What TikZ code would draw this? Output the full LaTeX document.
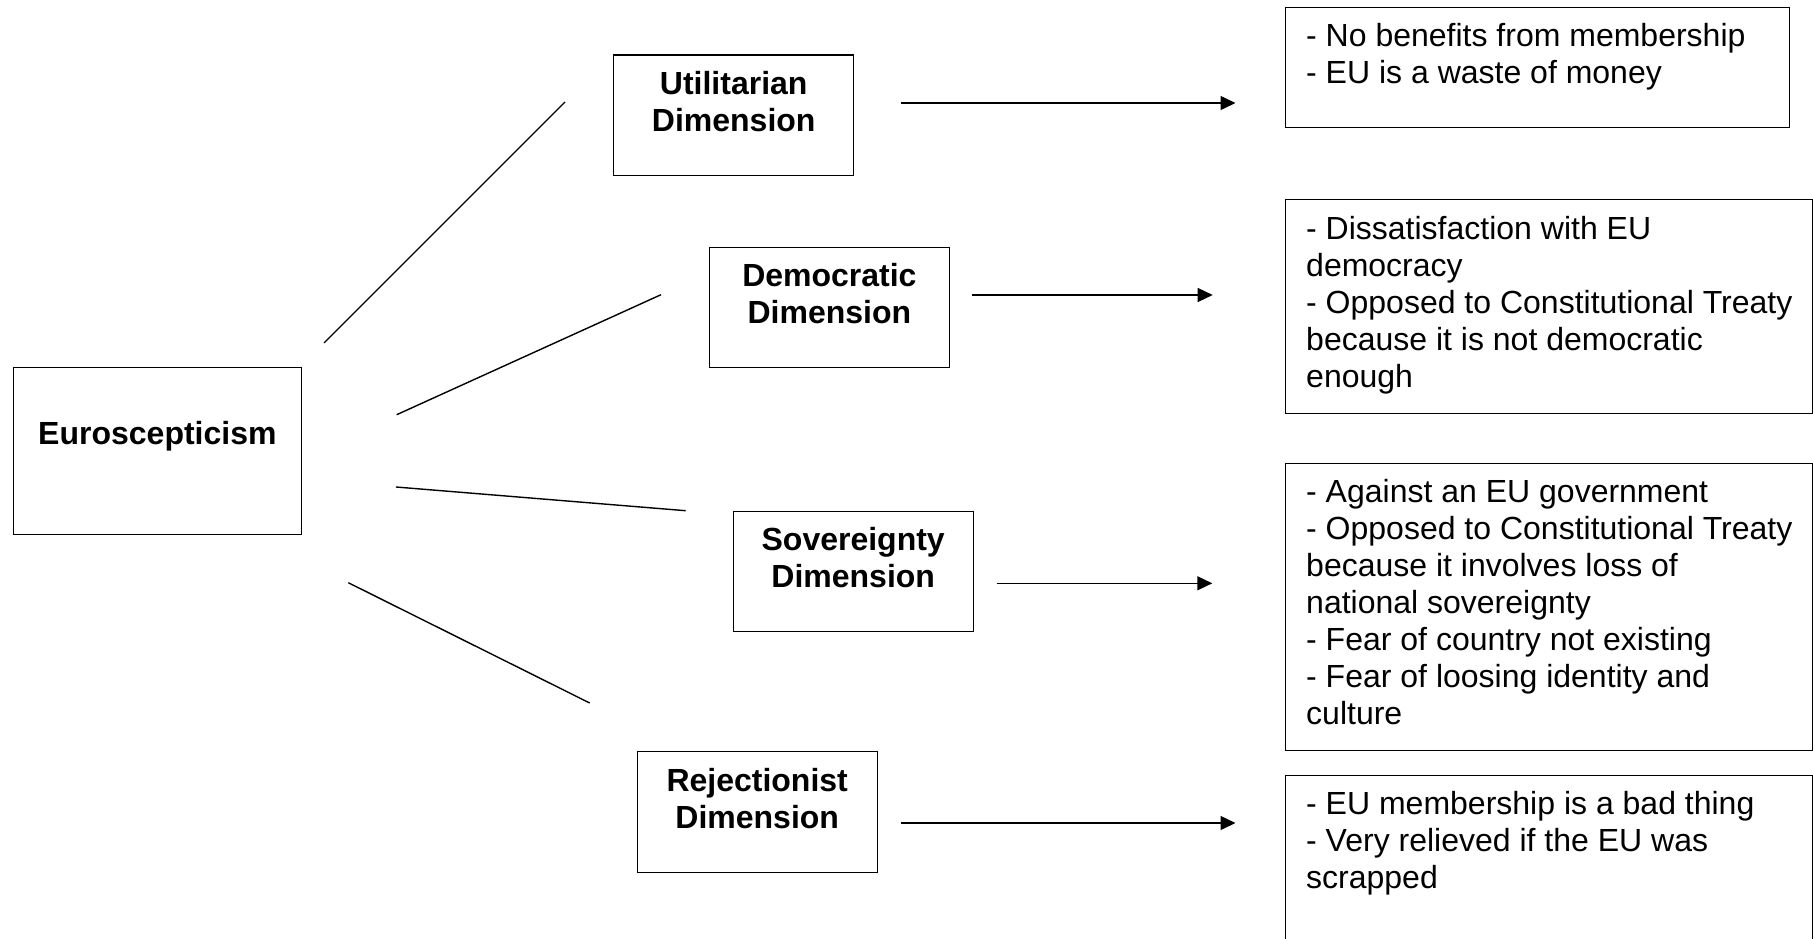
\documentclass[tikz,border=0pt]{standalone}
\usepackage{fontspec}
\setmainfont{Liberation Sans}
\usetikzlibrary{arrows.meta}
\newcommand\firstln{\rule{0pt}{29pt}}
\begin{document}
\begin{tikzpicture}[x=1pt,y=-1pt,
  frame/.style={draw, line width=1.4pt, rectangle, inner sep=0pt, anchor=north west},
  dimbox/.style={frame, minimum width=240pt, minimum height=120.5pt},
  rbox/.style={frame, minimum width=527pt},
  lab/.style={font=\fontsize{32}{37}\selectfont\bfseries, align=center, anchor=north, inner sep=0pt},
  txt/.style={font=\fontsize{32}{37}\selectfont, align=left, anchor=north west, inner sep=0pt},
  link/.style={line width=1.4pt},
  arr/.style={line width=1.4pt, -{Triangle[length=15pt,width=14pt]}}
]
\useasboundingbox (0,0) rectangle (1813,939);
% main box
\node[frame, minimum width=288pt, minimum height=167.5pt] (e) at (12.7,366.5) {};
\node[lab] (et) at ([yshift=-48.5pt]e.north) {\firstln Euroscepticism};
% dimension boxes
\node[dimbox] (u) at (613,54.5) {};
\node[lab] (ut) at ([yshift=-11pt]u.north) {\firstln Utilitarian\\Dimension};
\node[dimbox] (d) at (708.7,246.5) {};
\node[lab] (dt) at ([yshift=-11pt]d.north) {\firstln Democratic\\Dimension};
\node[dimbox] (s) at (732.5,510.5) {};
\node[lab] (st) at ([yshift=-11pt]s.north) {\firstln Sovereignty\\Dimension};
\node[dimbox] (r) at (636.5,751) {};
\node[lab] (rt) at ([yshift=-11pt]r.north) {\firstln Rejectionist\\Dimension};
% right boxes
\node[frame, minimum width=504pt, minimum height=120pt] (b1) at (1285,6.7) {};
\node[txt] (b1t) at ([xshift=21pt,yshift=-11pt]b1.north west) {\firstln - No benefits from membership\\- EU is a waste of money};
\node[rbox, minimum height=214pt] (b2) at (1285,199) {};
\node[txt] (b2t) at ([xshift=21pt,yshift=-11pt]b2.north west) {\firstln - Dissatisfaction with EU\\democracy\\- Opposed to Constitutional Treaty\\because it is not democratic\\enough};
\node[rbox, minimum height=287.5pt] (b3) at (1285,462.5) {};
\node[txt] (b3t) at ([xshift=21pt,yshift=-11pt]b3.north west) {\firstln - Against an EU government\\- Opposed to Constitutional Treaty\\because it involves loss of\\national sovereignty\\- Fear of country not existing\\- Fear of loosing identity and\\culture};
\node[rbox, minimum height=200pt] (b4) at (1285,774.6) {};
\node[txt] (b4t) at ([xshift=21pt,yshift=-11pt]b4.north west) {\firstln - EU membership is a bad thing\\- Very relieved if the EU was\\scrapped};
% free-standing lines
\coordinate (l1a) at (324,343);   \coordinate (l1b) at (565,102);
\coordinate (l2a) at (396.7,414.7); \coordinate (l2b) at (661,294.7);
\coordinate (l3a) at (396,487);   \coordinate (l3b) at (685.7,510.7);
\coordinate (l4a) at (348.3,582.7); \coordinate (l4b) at (589.7,703);
\draw[link] (l1a) -- (l1b);
\draw[link] (l2a) -- (l2b);
\draw[link] (l3a) -- (l3b);
\draw[link] (l4a) -- (l4b);
% arrows
\coordinate (a1a) at (900.5,103);  \coordinate (a1b) at (1235.5,103);
\coordinate (a2a) at (972.3,295);  \coordinate (a2b) at (1212.7,295);
\coordinate (a3a) at (996.7,583.3); \coordinate (a3b) at (1212.3,583.3);
\coordinate (a4a) at (900.5,823);  \coordinate (a4b) at (1235.5,823);
\draw[arr] (a1a) -- (a1b);
\draw[arr] (a2a) -- (a2b);
\draw[arr] (a3a) -- (a3b);
\draw[arr] (a4a) -- (a4b);
\end{tikzpicture}
\end{document}
